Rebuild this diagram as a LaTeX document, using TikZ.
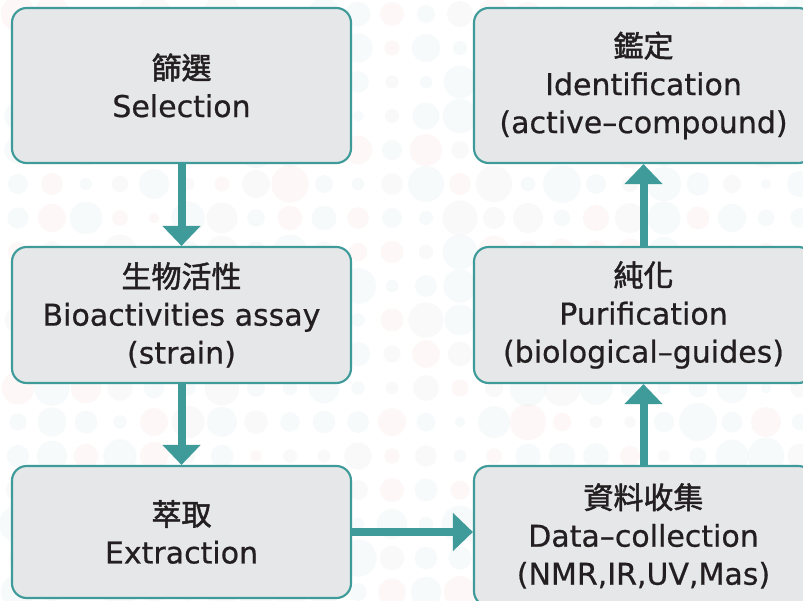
\documentclass[tikz,border=0pt]{standalone}
\usepackage{fontspec}
\setmainfont{DejaVu Sans}[FakeBold=0.6]
\newfontfamily\cjk{Noto Sans CJK TC}[FakeBold=1.6]
\usetikzlibrary{arrows.meta}
\definecolor{flowteal}{HTML}{3F9B9A}
\definecolor{boxfill}{HTML}{E6E7E9}
\definecolor{txtcol}{HTML}{231F20}
\definecolor{dotA}{HTML}{E9F3F3}
\definecolor{dotB}{HTML}{FBECEB}
\definecolor{dotC}{HTML}{F1F2F3}
\tikzset{
  stepbox/.style={draw=flowteal, line width=1.6pt, fill=boxfill, rounded corners=11pt,
    minimum width=254.25pt, align=center, text=txtcol, inner sep=0pt,
    font=\fontsize{22.5}{28.5}\selectfont},
  flowarrow/.style={draw=flowteal, line width=6pt, -{Triangle[width=27.75pt,length=15pt]}},
}
\begin{document}
\begin{tikzpicture}[x=0.75pt,y=-0.75pt]
\useasboundingbox (0,0) rectangle (803,600);
\clip (0,0) rectangle (803,600);
\fill[white] (0,0) rectangle (803,600);
\pgfmathsetseed{7}
\foreach \i in {0,...,23} {
  \foreach \j in {0,...,17} {
    \pgfmathsetmacro\rr{(5+14*rnd)*0.75}
    \pgfmathsetmacro\cc{rnd}
    \ifdim\cc pt<0.2pt
      \fill[dotB, opacity=0.4] (18+34*\i, 14+34*\j) circle[radius=\rr pt];
    \else\ifdim\cc pt<0.45pt
      \fill[dotC, opacity=0.4] (18+34*\i, 14+34*\j) circle[radius=\rr pt];
    \else
      \fill[dotA, opacity=0.4] (18+34*\i, 14+34*\j) circle[radius=\rr pt];
    \fi\fi
  }
}
\node[stepbox, minimum height=116.25pt] (sel) at (181.5,85.5) {{\cjk 篩選}\\Selection};
\node[stepbox, minimum height=102pt] (bio) at (181.5,315) {{\cjk 生物活性}\\Bioactivities assay\\(strain)};
\node[stepbox, minimum height=99pt] (ext) at (181.5,532) {{\cjk 萃取}\\Extraction};
\node[stepbox, minimum height=116.25pt] (ide) at (643.5,85.5) {{\cjk 鑑定}\\Identification\\(active–compound)};
\node[stepbox, minimum height=102pt] (pur) at (643.5,315) {{\cjk 純化}\\Purification\\(biological–guides)};
\node[stepbox, minimum height=105pt] (dat) at (643.5,536) {{\cjk 資料收集}\\Data–collection\\(NMR,IR,UV,Mas)};
\draw[flowarrow] (sel) -- (bio);
\draw[flowarrow] (bio) -- (ext);
\draw[flowarrow] (ext.east) -- (dat.west |- ext.east);
\draw[flowarrow] (dat) -- (pur);
\draw[flowarrow] (pur) -- (ide);
\end{tikzpicture}
\end{document}
